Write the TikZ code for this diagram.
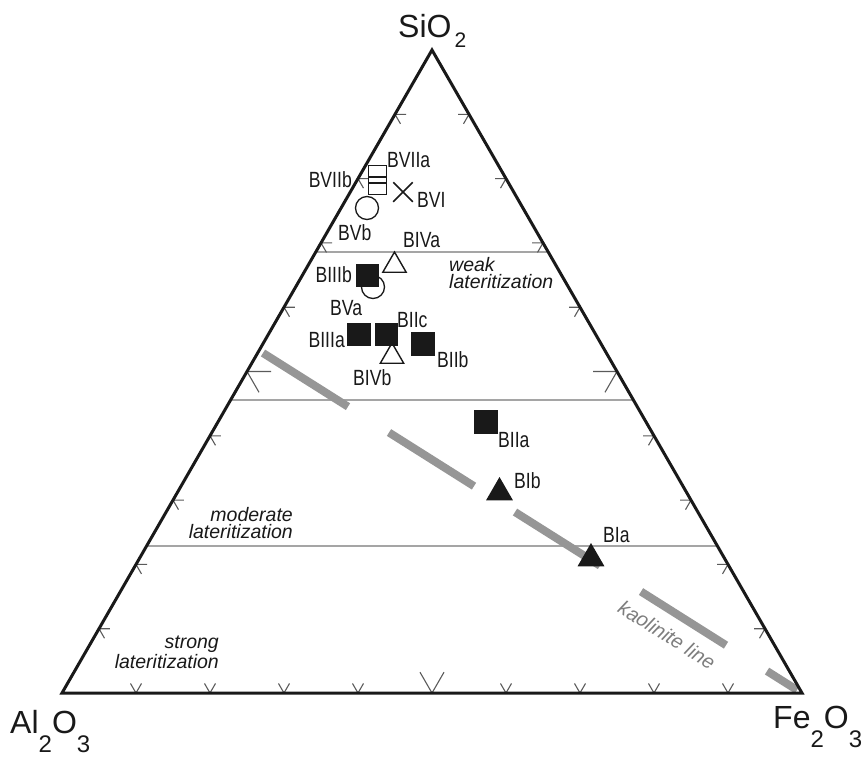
\documentclass[tikz,border=0pt]{standalone}
\usepackage{fontspec}
\setmainfont{Liberation Sans}
\newfontfamily\labfont[FakeStretch=0.8]{Liberation Sans}
\usetikzlibrary{calc,shapes.geometric,shapes.misc}
\definecolor{gridgray}{RGB}{165,165,165}
\definecolor{tickgray}{RGB}{90,90,90}
\definecolor{kaogray}{RGB}{150,150,150}
\definecolor{kaotext}{RGB}{125,125,125}
\definecolor{ink}{RGB}{25,25,25}
\newcommand{\subA}[1]{\raisebox{-19pt}{\fontsize{24}{24}\selectfont #1}}
\tikzset{
  corner/.style={font=\fontsize{32}{32}\selectfont, text=ink, inner sep=0},
  lab/.style={font=\labfont\fontsize{22}{24}\selectfont, text=ink, inner sep=0},
  zone/.style={font=\itshape\fontsize{19.5}{16.5}\selectfont, text=ink, inner sep=0},
  gridline/.style={draw=gridgray, line width=1.8pt},
  tickmark/.style={draw=tickgray, line width=1.1pt},
  outline/.style={draw=ink, line width=3pt, line join=miter},
  kaoline/.style={draw=kaogray, line width=8pt, dash pattern=on 100.5pt off 48.5pt},
  fsq/.style={rectangle, fill=ink, minimum size=23.5pt, inner sep=0},
  osq/.style={rectangle, draw=ink, line width=1.3pt, minimum size=17.5pt, inner sep=0},
  ocirc/.style={circle, draw=ink, line width=1.3pt, minimum size=23pt, inner sep=0},
  otri/.style={regular polygon, regular polygon sides=3, draw=ink, line width=1.4pt, minimum size=27pt, inner sep=0},
  ftri/.style={regular polygon, regular polygon sides=3, fill=ink, minimum size=31pt, inner sep=0},
  xmark/.style={cross out, draw=ink, line width=1.5pt, minimum size=18pt, inner sep=0},
}
\begin{document}
\begin{tikzpicture}[x=1pt,y=-1pt]
\useasboundingbox (0,0) rectangle (863,761);
% corners
\coordinate (A) at (432,50);
\coordinate (BL) at (62,693);
\coordinate (BR) at (802,693);
% lateritization boundaries
\foreach \f/\n in {0.68585/g1,0.45568/g2,0.22862/g3}{
  \path ($(BL)!\f!(A)$) coordinate (\n l) ($(BR)!\f!(A)$) coordinate (\n r);
  \draw[gridline] (\n l) -- (\n r);
}
% kaolinite line
\coordinate (K1) at (263,353);
\coordinate (K2) at (797,690);
\draw[kaoline] (K1) -- (K2);
% ticks
\foreach \i in {1,...,9}{
  \pgfmathsetmacro\len{ifthenelse(\i==5,24,11)}
  \path ($(BL)!\i/10!(A)$) coordinate (pl)
        ($(BR)!\i/10!(A)$) coordinate (pr)
        ($(BL)!\i/10!(BR)$) coordinate (pb);
  \draw[tickmark] (pl) ++(\len,0) -- (pl) -- ++(0.5*\len,0.866*\len);
  \draw[tickmark] (pr) ++(-\len,0) -- (pr) -- ++(-0.5*\len,0.866*\len);
  \draw[tickmark] (pb) ++(-0.5*\len,-0.866*\len) -- (pb) -- ++(0.5*\len,-0.866*\len);
}
% triangle outline
\draw[outline] (A) -- (BL) -- (BR) -- cycle;
% corner labels
\node[corner, anchor=base west] (si) at (398,37) {SiO\kern3pt\raisebox{-10pt}{\fontsize{21}{21}\selectfont 2}};
\node[corner, anchor=base west] (al) at (10,733) {Al\subA{2}O\subA{3}};
\node[corner, anchor=base west] (fe) at (773,728) {Fe\subA{2}O\subA{3}};
% zone labels (base anchor = last line)
\node[zone, align=left, anchor=base west] (weak) at (449,288) {weak\\lateritization};
\node[zone, align=right, anchor=base east] (moderate) at (293,538) {moderate\\lateritization};
\node[zone, align=right, anchor=base east] (strong) at (219,668) {strong\\lateritization};
\node[zone, text=kaotext, font=\itshape\fontsize{20}{20}\selectfont, rotate=-32.25] (kao) at (667,635) {kaolinite line};
% markers
\node[osq] (mBVIIa) at (377.5,174.2) {};
\node[osq] (mBVIIb) at (377.5,185.8) {};
\node[xmark] (mBVI) at (403,192) {};
\node[ocirc] (mBVb) at (367,208) {};
\node[otri] (mBIVa) at (394.5,265.5) {};
\node[ocirc] (mBVa) at (373,287) {};
\node[fsq] (mBIIIb) at (367.5,275.5) {};
\node[fsq] (mBIIIa) at (359,334.5) {};
\node[fsq] (mBIIc) at (386.5,334.5) {};
\node[otri] (mBIVb) at (392,356.5) {};
\node[fsq] (mBIIb) at (423,344) {};
\node[fsq] (mBIIa) at (486,422) {};
\node[ftri] (mBIb) at (499.5,492.5) {};
\node[ftri] (mBIa) at (591,558.5) {};
% point labels
\node[lab, anchor=base west] (lBVIIa) at (387,167) {BVIIa};
\node[lab, anchor=base east] (lBVIIb) at (352,187) {BVIIb};
\node[lab, anchor=base west] (lBVI) at (417,207) {BVI};
\node[lab, anchor=base west] (lBVb) at (338,240) {BVb};
\node[lab, anchor=base west] (lBIVa) at (403,247) {BIVa};
\node[lab, anchor=base east] (lBIIIb) at (352,282) {BIIIb};
\node[lab, anchor=base west] (lBVa) at (330,315) {BVa};
\node[lab, anchor=base east] (lBIIIa) at (345,347) {BIIIa};
\node[lab, anchor=base west] (lBIIc) at (397,327) {BIIc};
\node[lab, anchor=base west] (lBIIb) at (437,367) {BIIb};
\node[lab, anchor=base west] (lBIVb) at (353,385) {BIVb};
\node[lab, anchor=base west] (lBIIa) at (498,447) {BIIa};
\node[lab, anchor=base west] (lBIb) at (514,488) {BIb};
\node[lab, anchor=base west] (lBIa) at (603,542) {BIa};
\end{tikzpicture}
\end{document}
